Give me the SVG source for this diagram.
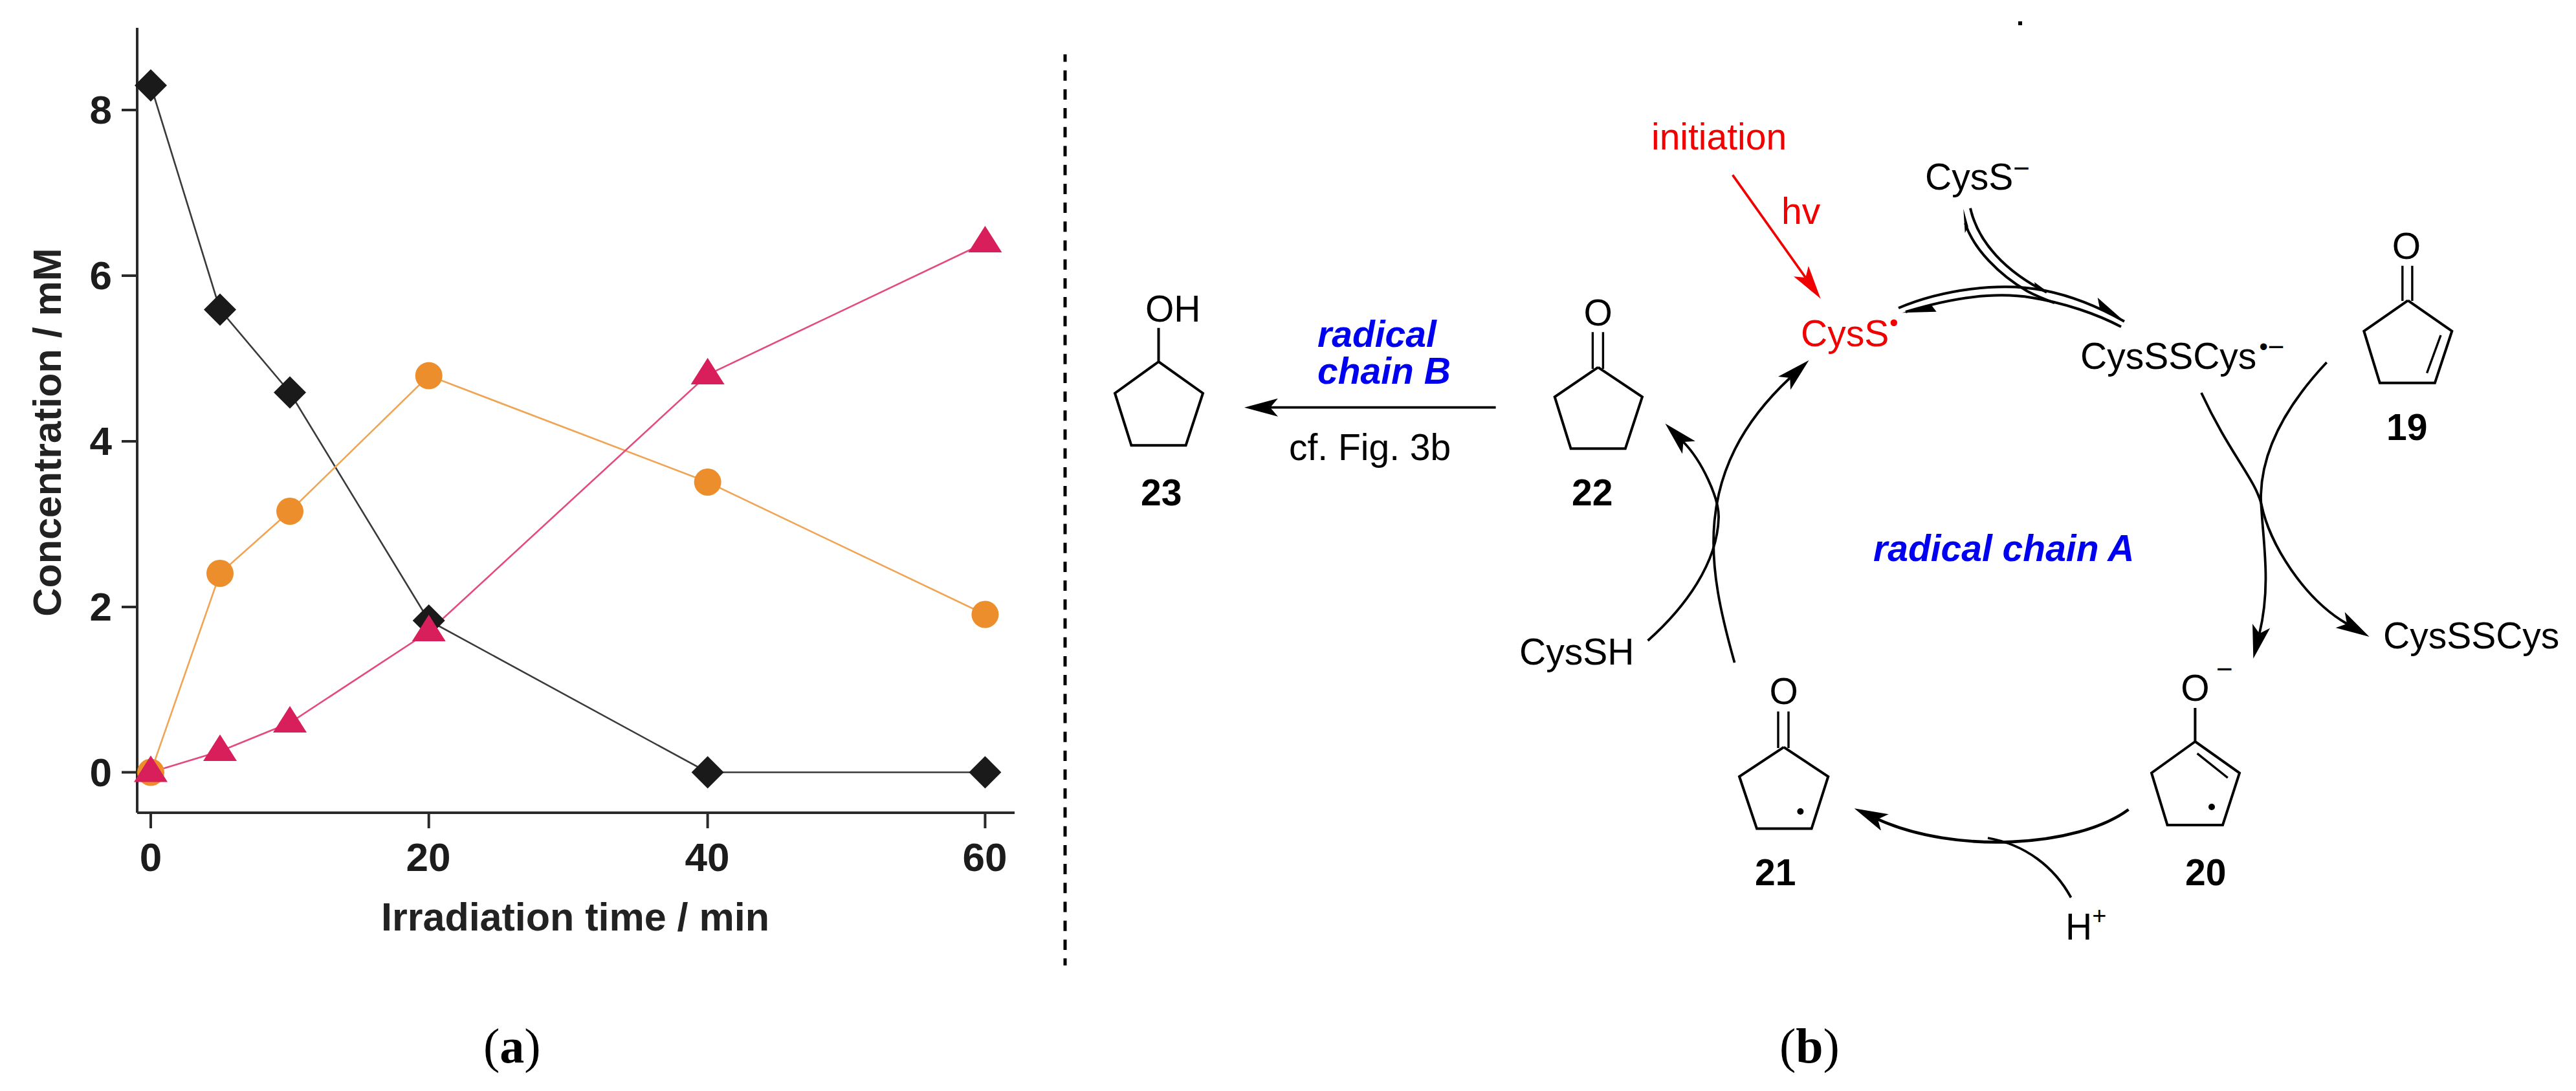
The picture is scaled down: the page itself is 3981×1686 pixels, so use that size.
<svg xmlns="http://www.w3.org/2000/svg" width="3981" height="1686" viewBox="0 0 3981 1686">
<style>
text{font-family:"Liberation Sans",Arial,sans-serif;font-size:57px;fill:#000}
.b{font-weight:bold}
.chart{font-weight:bold;font-size:61px;fill:#222}
.tick{font-weight:bold;font-size:62px;fill:#1c1c1c}
.blue{font-weight:bold;font-style:italic;fill:#0000f0}
.red{fill:#f00000}
.cap{font-family:"Liberation Serif","Times New Roman",serif;font-size:76px}
.bond{fill:none;stroke:#000;stroke-width:4;stroke-linejoin:miter}
.thin{fill:none;stroke:#000;stroke-width:3.4}
.arc{fill:none;stroke:#000;stroke-width:3.8;marker-end:url(#head)}
.eq{fill:none;stroke:#000;stroke-width:4}
.axis{fill:none;stroke:#2a2a2a;stroke-width:4}
.lk{fill:none;stroke:#3a3a3a;stroke-width:2.6}
.lo{fill:none;stroke:#f0a455;stroke-width:2.6}
.lp{fill:none;stroke:#e44a80;stroke-width:2.6}
.d{fill:#1a1a1a}.o{fill:#ec8e2c}.t{fill:#d81e5b}
.dot{font-size:38px}
.sup{font-size:44px}
</style>
<defs>
<marker id="head" markerUnits="userSpaceOnUse" markerWidth="52" markerHeight="28" refX="12" refY="14" orient="auto" viewBox="0 0 52 28"><path d="M0,0L52,14L0,28L12,14Z" fill="#000"/></marker>
<marker id="headr" markerUnits="userSpaceOnUse" markerWidth="52" markerHeight="28" refX="12" refY="14" orient="auto" viewBox="0 0 52 28"><path d="M0,0L52,14L0,28L12,14Z" fill="#f00000"/></marker>
<polygon id="dia" points="0,-25 25,0 0,25 -25,0"/>
<polygon id="tri" points="0,-26 26,15 -26,15"/>
</defs>
<rect width="3981" height="1686" fill="#fff"/>

<g id="chart-a">
<path class="axis" d="M212,43V1256M212,1256H1568M188,170H212M188,426H212M188,682H212M188,938H212M188,1193.5H212M233,1256V1280M662.7,1256V1280M1093.6,1256V1280M1522.4,1256V1280"/>
<g text-anchor="end" class="tick-labels">
<text class="tick" x="173" y="191">8</text><text class="tick" x="173" y="447">6</text><text class="tick" x="173" y="703">4</text><text class="tick" x="173" y="959">2</text><text class="tick" x="173" y="1215">0</text>
</g>
<g text-anchor="middle">
<text class="tick" x="233" y="1346">0</text><text class="tick" x="662" y="1346">20</text><text class="tick" x="1093" y="1346">40</text><text class="tick" x="1522" y="1346">60</text>
<text class="chart" x="889" y="1438">Irradiation time / min</text>
<text class="chart" transform="translate(94 668) rotate(-90)">Concentration / mM</text>
</g>
<path class="lk" d="M233,132L340,478.5L448,606.5L662.7,959L1093.6,1193.5H1522.4"/>
<path class="lo" d="M233,1193.5L340,886L448,790L662.7,580.6L1093.6,745L1522.4,949.5"/>
<path class="lp" d="M233,1193.5L340,1161L448,1117L662.7,976L1093.6,579L1522.4,375"/>
<g class="d">
<use href="#dia" x="233" y="132"/><use href="#dia" x="340" y="478.5"/><use href="#dia" x="448" y="606.5"/><use href="#dia" x="662.7" y="959"/><use href="#dia" x="1093.6" y="1193.5"/><use href="#dia" x="1522.4" y="1193.5"/>
</g>
<g class="o">
<circle cx="233" cy="1193.5" r="21"/><circle cx="340" cy="886" r="21"/><circle cx="448" cy="790" r="21"/><circle cx="662.7" cy="580.6" r="21"/><circle cx="1093.6" cy="745" r="21"/><circle cx="1522.4" cy="949.5" r="21"/>
</g>
<g class="t">
<use href="#tri" x="233" y="1193.5"/><use href="#tri" x="340" y="1161"/><use href="#tri" x="448" y="1117"/><use href="#tri" x="662.7" y="976"/><use href="#tri" x="1093.6" y="579"/><use href="#tri" x="1522.4" y="375"/>
</g>
</g>

<path id="divider" d="M1646,84V1492" fill="none" stroke="#000" stroke-width="5" stroke-dasharray="16 13.2" stroke-dashoffset="4.5"/>

<rect id="speck" x="3119" y="33" width="6" height="6" fill="#000"/>

<g id="connectors">
<path class="arc" d="M2311.6,629.7H1963"/>
<path class="arc" style="stroke:#f00000;marker-end:url(#headr)" d="M2677.6,270.4L2790.4,429"/>
<path class="arc" d="M2546.6,990C2605,938 2654,870 2656,800C2657,770 2630,712 2601.5,683"/>
<path class="arc" d="M2680.6,1024C2640,880 2610,730 2766.3,584"/>
<path class="arc" d="M3595.7,560C3530,630 3494,700 3494,770C3496,830 3511,900 3491.8,979"/>
<path class="arc" d="M3402,607C3445,700 3485,740 3495,780C3507,840 3560,925 3627,964"/>
<path class="arc" style="stroke-width:4.6" d="M3289.5,1251C3210,1310 3020,1320 2902,1266"/>
<path class="thin" style="stroke-width:3.8" d="M3200.5,1387C3175,1340 3130,1305 3072,1295"/>
<path class="eq" d="M2934,476C3000,448 3090,435 3160,449C3205,458 3250,478 3283,496.7"/>
<path class="eq" d="M3278,505C3240,485 3190,468 3140,460C3080,450 3010,462 2945,482"/>
<path class="eq" d="M3037,345C3050,385 3090,425 3133,450Q3150,459 3175,468"/>
<path class="eq" d="M3045,321.7C3057,375 3100,420 3163,451.7"/>
<polygon points="3283.3,496.7 3241.7,460 3245,476.7"/>
<polygon points="2939.3,483.3 2992.7,481.7 2985,471.7"/>
<polygon points="3034.3,322.7 3036.7,360 3041.7,350"/>
<polygon points="3166,452 3144,436 3146,446"/>
</g>

<g id="compound-23">
<text x="1770" y="497">OH</text>
<path class="bond" d="M1790.5,506.7V559L1859,607.7L1832.6,688.3H1748.4L1723,607.7L1790.5,559"/>
<text class="b" x="1763" y="781">23</text>
</g>
<g id="compound-22">
<text x="2469.7" y="503" text-anchor="middle">O</text>
<path class="bond" d="M2469.7,567.7L2538,613.3L2511.8,693.3H2427.6L2402.7,613.3L2469.7,567.7"/>
<path class="thin" d="M2461.4,513.3V570M2477.4,513.3V570"/>
<text class="b" x="2429" y="781">22</text>
</g>
<g id="label-chain-b">
<text class="blue" x="2036" y="536">radical</text>
<text class="blue" x="2036" y="593">chain B</text>
<text x="1992" y="711">cf. Fig. 3b</text>
</g>
<g id="initiation">
<text class="red" x="2552" y="231">initiation</text>
<text class="red" x="2753" y="346">hv</text>
</g>
<g id="cys-radical">
<text class="red" x="2783" y="535">CysS<tspan class="dot" dx="1" dy="-23.5">•</tspan></text>
</g>
<g id="cys-anion">
<text x="2975" y="293">CysS<tspan class="sup" dy="-18">−</tspan></text>
</g>
<g id="cys-disulfide-radical">
<text x="3215" y="570">CysSSCys<tspan class="dot" dx="4" dy="-21">•</tspan><tspan class="sup" dy="2">−</tspan></text>
</g>
<g id="compound-19">
<text x="3719" y="400" text-anchor="middle">O</text>
<path class="bond" d="M3721.3,464.3L3789.3,511.7L3762.9,591.8H3677.8L3653.3,511.7L3721.3,464.3"/>
<path class="thin" d="M3712.8,410.7V465M3727.9,410.7V465M3772,518L3750.6,576.5"/>
<text class="b" x="3688" y="680">19</text>
</g>
<g id="label-chain-a"><text class="blue" x="2895" y="867">radical chain A</text></g>
<g id="cys-disulfide"><text x="3683" y="1002">CysSSCys</text></g>
<g id="cysh"><text x="2348" y="1027">CysSH</text></g>
<g id="compound-21">
<text x="2756.7" y="1088" text-anchor="middle">O</text>
<path class="bond" d="M2756.7,1154.6L2825.3,1200L2799.6,1280.6H2715L2688,1200L2756.7,1154.6"/>
<path class="thin" d="M2748,1099.6V1156M2764,1099.6V1156"/>
<circle cx="2782.4" cy="1254" r="5"/>
<text class="b" x="2712" y="1368">21</text>
</g>
<g id="compound-20">
<text x="3392.4" y="1083" text-anchor="middle">O</text>
<text class="sup" x="3425" y="1049">−</text>
<path class="bond" d="M3392.4,1094V1146L3461,1194.5L3435,1275H3349.5L3325,1194.5L3392.4,1146"/>
<path class="thin" d="M3395.6,1164.4L3442.8,1202"/>
<circle cx="3418" cy="1247" r="5"/>
<text class="b" x="3377" y="1368">20</text>
</g>
<g id="proton"><text x="3192" y="1452">H<tspan font-size="38" style="font-size:38px" dy="-24">+</tspan></text></g>
<g id="captions">
<text class="cap" x="747" y="1642">(<tspan font-weight="bold">a</tspan>)</text>
<text class="cap" x="2750" y="1642">(<tspan font-weight="bold">b</tspan>)</text>
</g>
</svg>
